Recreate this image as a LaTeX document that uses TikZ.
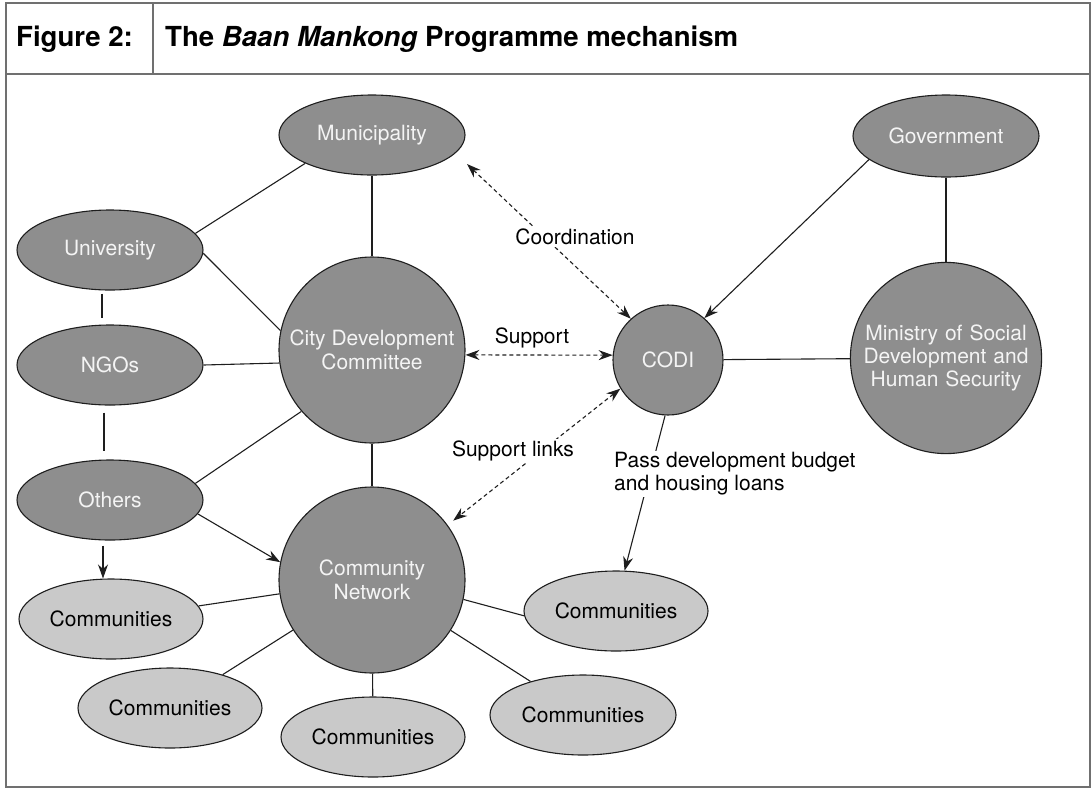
\documentclass[tikz,border=0pt]{standalone}
\usepackage{fontspec}
\setmainfont{TeX Gyre Heros}
\usetikzlibrary{shapes.geometric,arrows.meta}
\definecolor{nodedark}{HTML}{8E8E8E}
\definecolor{nodelight}{HTML}{C9C9C9}
\definecolor{inkline}{HTML}{1E1E1E}
\definecolor{framegray}{HTML}{707070}
\definecolor{softwhite}{HTML}{F4F4F4}

\begin{document}
\begin{tikzpicture}[x=1pt,y=-1pt,
  every node/.style={font=\fontsize{21}{24}\selectfont},
  basenode/.style={draw=inkline, line width=1.1pt, align=center, inner sep=0pt},
  darkell/.style={basenode, ellipse, fill=nodedark, text=softwhite,
                  minimum width=186pt, minimum height=80pt},
  darkcirc/.style={basenode, circle, fill=nodedark, text=softwhite, minimum size=#1},
  commell/.style={basenode, ellipse, fill=nodelight, text=black,
                  minimum width=184pt, minimum height=80pt},
  tie/.style={draw=inkline, line width=1.1pt},
  flow/.style={tie, -{Stealth[length=14pt,width=10pt]}},
  dflow/.style={tie, dash pattern=on 4pt off 3pt,
                {Stealth[length=14pt,width=10pt]}-{Stealth[length=14pt,width=10pt]}},
  edgelabel/.style={fill=white, inner sep=2pt, text=black, align=left},
  headtext/.style={font=\fontsize{27.6}{30}\selectfont\bfseries, anchor=west, inner sep=0pt}
]
\useasboundingbox (0,0) rectangle (1092,788);

% frame and header row
\draw[framegray, line width=1.4pt] (6,3) rectangle (1090,787);
\draw[framegray, line width=1.4pt] (6,74) -- (1090,74);
\draw[framegray, line width=1.4pt] (153,3) -- (153,74);
\node[headtext] (hdrnum) at (16,39) {Figure 2:};
\node[headtext] (hdrtitle) at (165,39) {The \textit{Baan Mankong} Programme mechanism};

% organisations
\node[darkell] (mun) at (372,135) {Municipality};
\node[darkell, minimum height=82pt] (gov) at (946,136) {Government};
\node[darkell] (uni) at (110,250) {University};
\node[darkell] (ngo) at (110,365) {NGOs};
\node[darkell] (oth) at (110,500) {Others};
\node[darkcirc=186pt] (cdc) at (372,350) {City Development\\Committee};
\node[darkcirc=186pt] (cn) at (372,580) {Community\\Network};
\node[darkcirc=110pt] (codi) at (668,360) {CODI};
\node[darkcirc=188pt, text width=180pt, font=\fontsize{21}{23}\selectfont] (min) at (946,358)
  {Ministry of Social\\Development and\\Human Security};

% communities
\node[commell] (comL) at (111,619) {Communities};
\node[commell] (comR) at (616,611) {Communities};
\node[commell] (comBL) at (170,708) {Communities};
\node[commell] (comB) at (373,737) {Communities};
\node[commell, minimum width=186pt] (comBR) at (583,715) {Communities};

% plain links
\draw[tie] (uni.11) -- (mun.203);
\draw[tie] (uni.358) -- (cdc.168);
\draw[tie] (ngo.east) -- (cdc.188);
\draw[tie] (oth.11) -- (cdc.221);
\draw[tie] ([xshift=-8pt,yshift=-3pt]uni.south) -- ([xshift=-8pt,yshift=6pt]ngo.north);
\draw[tie] ([xshift=-6pt,yshift=-7pt]ngo.south) -- ([xshift=-6pt,yshift=8pt]oth.north);
\draw[tie] (mun) -- (cdc);
\draw[tie] (cdc) -- (cn);
\draw[tie] (gov) -- (min);
\draw[tie] (codi) -- (min);
\draw[tie] (cn) -- (comL);
\draw[tie] (cn) -- (comBL);
\draw[tie] (cn) -- (comB);
\draw[tie] (cn) -- (comBR);
\draw[tie] (cn.-12) -- (comR.183);

% directed links
\draw[flow] (oth.351) -- (cn.169);
\draw[flow] ([xshift=-7pt,yshift=-5pt]oth.south) -- ([xshift=-8pt]comL.north);
\draw[flow] (gov.197) -- (codi.49);
\draw[flow] (codi.267) -- (comR.78);

% two-way links
\coordinate (munTip) at (467,164);
\draw[dflow] (munTip) -- (codi.132);
\draw[dflow] (cdc.357) -- (codi.175);
\draw[dflow, shorten >=7pt] (codi.211) -- (cn.36);

% link labels
\node[edgelabel] (lblCoord) at (575,237) {Coordination};
\node[edgelabel] (lblSupport) at (532,338) {Support};
\node[edgelabel] (lblLinks) at (513,451) {Support links};
\node[edgelabel, anchor=west, font=\fontsize{21}{23}\selectfont] (lblBudget) at (612,474)
  {Pass development budget\\and housing loans};
\end{tikzpicture}
\end{document}
